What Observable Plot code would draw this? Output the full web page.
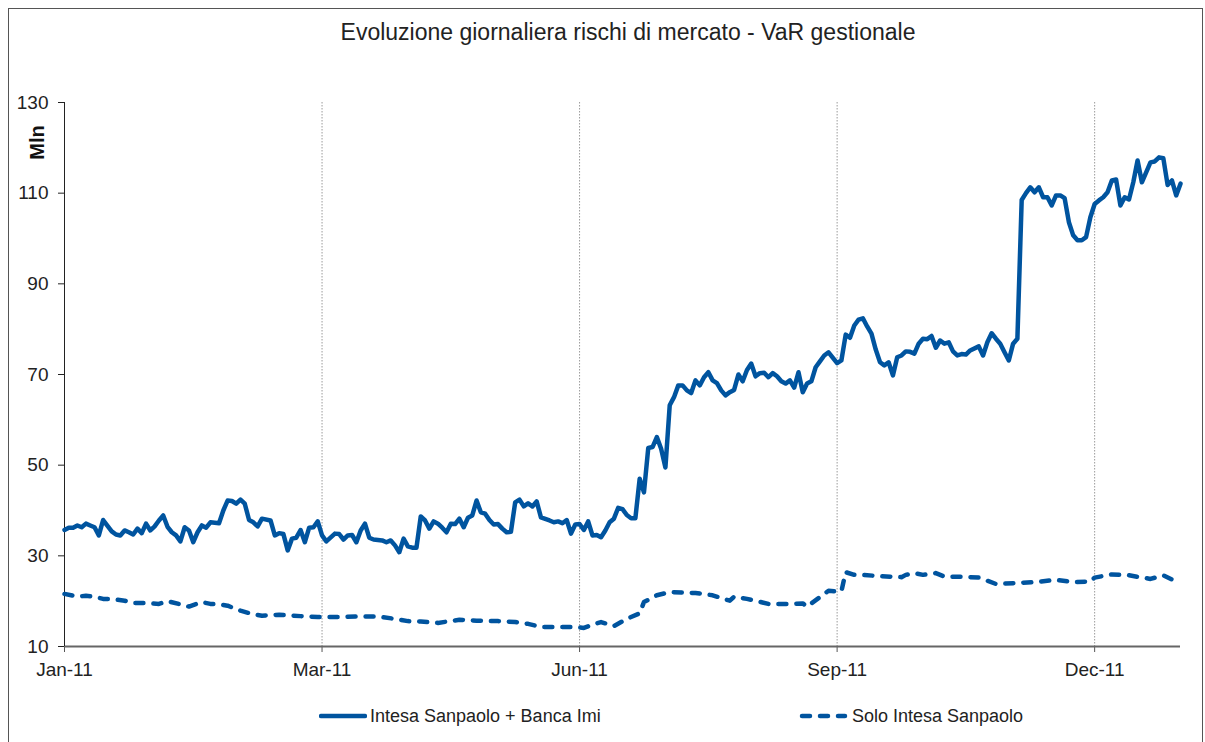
<!DOCTYPE html>
<html><head><meta charset="utf-8">
<script src="https://cdn.jsdelivr.net/npm/d3@7"></script>
<script src="https://cdn.jsdelivr.net/npm/@observablehq/plot@0.6"></script>
<style>
body{margin:0;background:#fff;font-family:"Liberation Sans",Arial,sans-serif;color:#222}
#wrap{position:relative;width:1205px;height:742px;overflow:hidden;background:#fff}
#frame{position:absolute;left:8px;top:8px;width:1195px;height:780px;border:1.5px solid #555;box-sizing:border-box}
#title{position:absolute;top:19px;left:0;width:1256px;text-align:center;font-size:23px;line-height:26px;color:#222}
#chart{position:absolute;top:60px;left:0}
.leg{position:absolute;top:705px;height:22px;display:flex;align-items:center;font-size:18px;color:#222;white-space:nowrap}
.leg svg{display:block;margin-right:3px}
</style>
</head><body>
<div id="wrap">
  <div id="frame"></div>
  <div id="title">Evoluzione giornaliera rischi di mercato - VaR gestionale</div>
  <div id="chart"></div>
  <div class="leg" style="left:319px"><svg width="48" height="10"><line x1="2" y1="5" x2="46" y2="5" stroke="#00549f" stroke-width="4.5" stroke-linecap="round"/></svg>Intesa Sanpaolo + Banca Imi</div>
  <div class="leg" style="left:799px"><svg width="50" height="10"><line x1="3" y1="5" x2="46" y2="5" stroke="#00549f" stroke-width="4.5" stroke-linecap="round" stroke-dasharray="8,10"/></svg>Solo Intesa Sanpaolo</div>
</div>
<script>
// Trading-day index (0 = first day of Jan 2011)
const tickDay = [0, 60, 120, 180, 240];
const tickLabel = ["Jan-11", "Mar-11", "Jun-11", "Sep-11", "Dec-11"];
const yTicks = [10, 30, 50, 70, 90, 110, 130];

// Intesa Sanpaolo + Banca Imi (Mln)
const solidDay = [
0,1,2,3,4,5,6,7,8,9,
11,12,13,14,15,16,17,18,19,20,
21,22,23,24,25,26,27,28,29,30,
31,32,33,34,36,37,38,39,40,41,
42,43,44,45,46,48,49,50,51,52,
53,54,55,56,57,58,59,60,61,63,
64,65,66,67,68,69,70,71,72,74,
75,76,77,78,79,80,81,82,83,84,
85,86,87,88,89,90,91,92,93,94,
95,96,97,98,99,100,101,102,103,104,
105,106,107,108,109,110,111,113,114,115,
116,117,118,119,120,121,122,123,124,125,
126,127,128,129,130,131,132,133,134,135,
136,137,138,139,140,141,142,143,144,145,
146,147,148,149,150,151,152,153,154,155,
156,157,158,159,160,161,162,163,164,165,
166,167,168,169,170,171,172,173,174,175,
176,177,178,180,181,182,183,184,185,186,
187,188,189,190,191,192,193,194,195,196,
197,198,199,200,201,202,203,204,205,206,
207,208,209,210,211,213,214,215,216,217,
218,219,220,221,222,223,224,225,226,227,
228,229,230,231,232,233,234,235,236,237,
238,239,240,241,242,243,244,245,246,247,
248,249,250,251,252,253,254,255,256,257,
258,259,260];
const solidVaR = [
35.7,36.2,36.2,36.7,36.3,37.1,36.7,36.3,34.5,37.9,
35.4,34.7,34.5,35.6,35.2,34.7,36.0,35.0,37.1,35.6,
36.5,37.8,38.9,36.4,35.2,34.5,33.2,36.3,35.6,33.0,
35.2,36.7,36.2,37.4,37.2,40.0,42.2,42.1,41.5,42.4,
41.5,37.9,37.4,36.5,38.2,37.8,34.5,35.0,34.8,31.2,
33.8,34.0,35.7,33.0,36.2,36.3,37.6,34.5,33.2,34.9,
34.8,33.6,34.5,34.6,33.0,35.6,37.1,34.0,33.6,33.4,
33.0,33.4,32.3,30.8,33.8,32.1,31.8,31.8,38.7,37.8,
36.0,37.6,37.1,36.2,35.2,37.1,37.0,38.2,36.3,38.4,
38.9,42.2,39.6,39.3,37.9,36.9,37.0,36.0,35.2,35.3,
41.8,42.4,40.9,41.6,40.9,42.0,38.5,37.8,37.4,37.6,
37.2,37.9,34.9,36.9,37.0,35.7,37.6,34.5,34.6,34.1,
35.6,37.4,38.2,40.6,40.3,39.0,38.3,38.3,47.0,44.0,
53.8,54.0,56.2,53.6,49.5,63.2,65.0,67.6,67.6,66.5,
65.9,68.7,67.6,69.4,70.5,68.7,68.1,66.5,65.4,66.1,
66.6,70.0,68.5,71.0,72.4,69.6,70.3,70.4,69.4,70.3,
69.6,68.5,68.0,68.7,67.1,70.5,66.1,68.0,68.5,71.6,
72.9,74.2,74.9,72.5,73.1,78.8,78.1,80.8,82.1,82.4,
80.6,79.0,75.5,72.7,72.0,72.7,69.8,73.8,74.2,75.1,
75.0,74.6,76.8,77.9,77.8,78.5,75.9,77.5,76.8,77.1,
75.1,74.2,74.5,74.4,75.3,76.2,74.2,77.1,79.1,77.9,
76.8,74.9,73.1,76.8,77.9,108.5,110.0,111.3,110.2,111.3,
109.1,109.1,107.3,109.5,109.5,108.9,103.6,100.7,99.6,99.6,
100.3,104.7,107.6,108.4,109.1,110.2,112.8,113.0,107.3,109.1,
108.6,112.4,117.2,112.4,114.6,116.8,117.0,117.9,117.7,111.8,
112.8,109.5,112.1];

// Solo Intesa Sanpaolo (Mln)
const dashDay = [0,3,5,7,9,11,14,16,18,22,24,27,29,32,34,36,38,41,44,46,
50,55,59,64,68,73,77,80,83,87,92,96,101,105,108,111,114,119,121,123,
125,128,131,134,135,138,141,147,151,155,156,159,164,169,172,173,176,178,180,181,
182,184,186,190,195,196,198,200,203,205,209,213,217,222,226,231,235,239,240,244,
248,253,256,258,260];
const dashVaR = [21.6,21.0,21.2,21.0,20.5,20.5,20.1,19.6,19.6,19.4,20.0,19.3,18.8,19.8,19.4,19.3,19.0,17.9,17.1,16.8,
17.0,16.7,16.5,16.5,16.6,16.6,16.1,15.6,15.5,15.2,15.9,15.7,15.6,15.4,15.0,14.3,14.3,14.3,14.1,14.8,
15.4,14.5,16.1,17.3,19.8,21.3,22.0,21.8,21.3,20.1,21.0,20.5,19.4,19.4,19.5,18.8,20.9,22.3,22.1,22.2,
26.4,25.8,25.8,25.5,25.3,25.8,26.2,25.8,26.2,25.4,25.4,25.2,23.8,24.0,24.2,24.7,24.2,24.3,25.2,25.9,
25.7,24.9,25.7,24.8,24.7];

const solid = solidDay.map((d, i) => ({day: d, v: solidVaR[i]}));
const dash = dashDay.map((d, i) => ({day: d, v: dashVaR[i]}));
const labelOf = new Map(tickDay.map((d, i) => [d, tickLabel[i]]));
const blue = "#00549f";

const chart = Plot.plot({
  width: 1205,
  height: 640,
  marginLeft: 64,
  marginRight: 25,
  marginTop: 42,
  marginBottom: 54,
  style: {fontFamily: "'Liberation Sans', Arial, sans-serif", fontSize: "19px", color: "#222", background: "transparent", overflow: "visible"},
  x: {domain: [0, 260]},
  y: {domain: [10, 130]},
  marks: [
    Plot.ruleX(tickDay.slice(1), {stroke: "#9a9a9a", strokeWidth: 1, strokeDasharray: "1.5,1.5"}),
    Plot.axisX({ticks: tickDay, tickFormat: d => labelOf.get(d), tickSize: 6, tickPadding: 10, stroke: "#555", label: null}),
    Plot.axisY({ticks: yTicks, tickSize: 6, tickPadding: 10, stroke: "#222", label: null}),
    Plot.ruleY([10], {stroke: "#666", strokeWidth: 2}),
    Plot.ruleX([0], {stroke: "#222", strokeWidth: 1}),
    Plot.text(["Mln"], {frameAnchor: "top-left", dx: -35, dy: 40, rotate: -90, fontWeight: "bold", fontSize: 20, fill: "#111", textAnchor: "middle"}),
    Plot.line(dash, {x: "day", y: "v", stroke: blue, strokeWidth: 4.5, strokeDasharray: "8,10", strokeLinecap: "round", strokeLinejoin: "round"}),
    Plot.line(solid, {x: "day", y: "v", stroke: blue, strokeWidth: 4.5, strokeLinejoin: "round", strokeLinecap: "round"})
  ]
});
document.getElementById("chart").appendChild(chart);
</script>
</body></html>
